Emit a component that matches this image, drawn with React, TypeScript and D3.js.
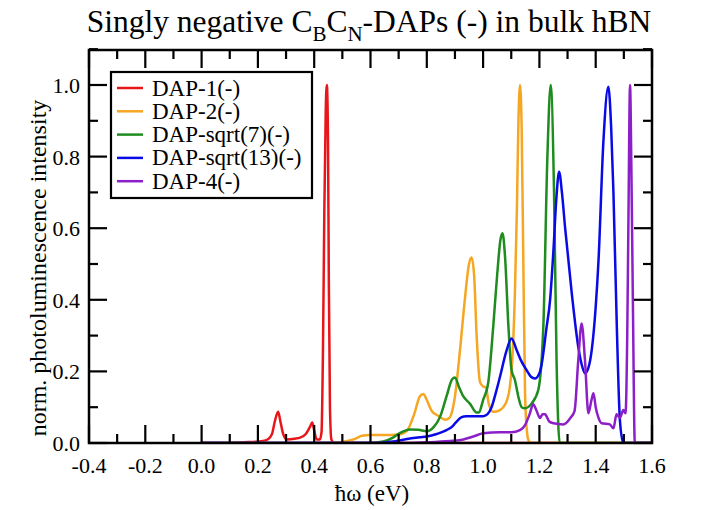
import React from "react";
import * as d3 from "d3";

const xTickValues = [-0.4, -0.2, 0.0, 0.2, 0.4, 0.6, 0.8, 1.0, 1.2, 1.4, 1.6];
const yTickValues = [0.0, 0.2, 0.4, 0.6, 0.8, 1.0];

const dap1X = [0.0, 0.1, 0.15, 0.2, 0.23, 0.25, 0.26, 0.272, 0.28, 0.29, 0.303, 0.33, 0.35, 0.37, 0.385, 0.393, 0.4, 0.409, 0.42, 0.426, 0.431, 0.436, 0.441, 0.445, 0.449, 0.452, 0.456, 0.461, 0.47, 1.6];
const dap1Y = [0, 0, 0.002, 0.004, 0.008, 0.025, 0.06, 0.087, 0.06, 0.025, 0.01, 0.012, 0.015, 0.025, 0.045, 0.057, 0.035, 0.01, 0.01, 0.03, 0.25, 0.65, 0.93, 1.0, 0.85, 0.45, 0.1, 0.01, 0, 0];

const dap2X = [0.0, 0.45, 0.5, 0.54, 0.57, 0.6, 0.65, 0.7, 0.73, 0.755, 0.775, 0.788, 0.8, 0.817, 0.84, 0.865, 0.88, 0.9, 0.918, 0.935, 0.95, 0.959, 0.968, 0.977, 0.989, 1.0, 1.01, 1.02, 1.036, 1.06, 1.08, 1.095, 1.105, 1.113, 1.12, 1.125, 1.131, 1.137, 1.143, 1.149, 1.155, 1.16, 1.17, 1.6];
const dap2Y = [0, 0, 0.003, 0.01, 0.02, 0.022, 0.022, 0.024, 0.035, 0.08, 0.13, 0.137, 0.12, 0.09, 0.076, 0.065, 0.07, 0.13, 0.26, 0.4, 0.5, 0.518, 0.47, 0.3, 0.17, 0.158, 0.155, 0.11, 0.087, 0.092, 0.11, 0.157, 0.25, 0.42, 0.65, 0.88, 1.0, 0.88, 0.5, 0.14, 0.04, 0.01, 0, 0];

const dap7X = [0.0, 0.6, 0.645, 0.68, 0.705, 0.74, 0.77, 0.8, 0.825, 0.847, 0.87, 0.89, 0.9, 0.915, 0.93, 0.953, 0.977, 0.985, 1.0, 1.018, 1.036, 1.05, 1.062, 1.069, 1.078, 1.09, 1.101, 1.113, 1.125, 1.137, 1.149, 1.172, 1.196, 1.214, 1.228, 1.24, 1.252, 1.261, 1.272, 1.6];
const dap7Y = [0, 0, 0.004, 0.015, 0.028, 0.038, 0.037, 0.033, 0.045, 0.073, 0.13, 0.178, 0.183, 0.155, 0.13, 0.11, 0.085, 0.085, 0.12, 0.167, 0.325, 0.47, 0.57, 0.586, 0.52, 0.325, 0.204, 0.176, 0.13, 0.1, 0.097, 0.11, 0.148, 0.325, 0.79, 1.0, 0.7, 0.23, 0, 0];

const dap13X = [0.0, 0.63, 0.68, 0.72, 0.776, 0.8, 0.835, 0.87, 0.893, 0.906, 0.924, 0.94, 1.0, 1.015, 1.03, 1.045, 1.06, 1.084, 1.101, 1.119, 1.135, 1.154, 1.17, 1.184, 1.2, 1.208, 1.225, 1.238, 1.25, 1.26, 1.27, 1.28, 1.291, 1.315, 1.338, 1.35, 1.362, 1.374, 1.386, 1.4, 1.41, 1.427, 1.445, 1.455, 1.463, 1.475, 1.486, 1.498, 1.6];
const dap13Y = [0, 0, 0.004, 0.01, 0.016, 0.018, 0.025, 0.036, 0.048, 0.06, 0.072, 0.075, 0.075, 0.08, 0.1, 0.14, 0.185, 0.26, 0.292, 0.26, 0.23, 0.204, 0.185, 0.18, 0.195, 0.22, 0.32, 0.4, 0.54, 0.68, 0.758, 0.7, 0.604, 0.418, 0.269, 0.22, 0.195, 0.21, 0.26, 0.38, 0.51, 0.837, 0.995, 0.88, 0.7, 0.325, 0.064, 0, 0];

const dap4X = [0.0, 0.75, 0.8, 0.894, 0.93, 0.965, 1.0, 1.06, 1.1, 1.131, 1.149, 1.165, 1.178, 1.19, 1.202, 1.211, 1.22, 1.235, 1.25, 1.285, 1.31, 1.325, 1.338, 1.35, 1.362, 1.374, 1.385, 1.392, 1.4, 1.41, 1.421, 1.45, 1.463, 1.474, 1.486, 1.498, 1.506, 1.512, 1.516, 1.522, 1.527, 1.532, 1.539, 1.6];
const dap4Y = [0, 0, 0.002, 0.006, 0.01, 0.018, 0.027, 0.03, 0.03, 0.036, 0.05, 0.08, 0.108, 0.09, 0.07, 0.08, 0.08, 0.06, 0.055, 0.052, 0.07, 0.09, 0.23, 0.334, 0.23, 0.083, 0.12, 0.139, 0.1, 0.07, 0.055, 0.052, 0.041, 0.08, 0.07, 0.092, 0.083, 0.3, 0.6, 1.0, 0.75, 0.4, 0, 0];

const seriesNames = ["DAP-1(-)", "DAP-2(-)", "DAP-sqrt(7)(-)", "DAP-sqrt(13)(-)", "DAP-4(-)"];
const seriesColors = ["#e8161b", "#f5a623", "#1e8c1e", "#0a0ae6", "#8c1fc8"];
const seriesX = [dap1X, dap2X, dap7X, dap13X, dap4X];
const seriesY = [dap1Y, dap2Y, dap7Y, dap13Y, dap4Y];

const W = 705;
const H = 510;
const L = 89, R = 652, T = 50, B = 443;
const FONT = '"Liberation Serif", "Times New Roman", Times, "DejaVu Serif", serif';
const ts = { fontFamily: FONT };

export default function App() {
  const x = d3.scaleLinear().domain([-0.4, 1.6]).range([L, R]);
  const y = d3.scaleLinear().domain([0, 1.1]).range([B, B - 1.1 * 358]);
  const line = d3
    .line<[number, number]>()
    .x((d) => x(d[0]))
    .y((d) => y(d[1]))
    .curve(d3.curveMonotoneX);

  const xMinor = d3.range(-4, 17).map((i) => i / 10);
  const yMinor = d3.range(0, 12).map((i) => i / 10);
  const isMajor = (v: number) => Math.abs(Math.round(v * 10) % 2) === 0;
  const MAJ = 18, MIN = 9;

  return (
    <svg width={W} height={H} style={{ display: "block", position: "absolute", left: 0, top: 0, background: "#fff", fontFamily: FONT }}>
      <defs>
        <clipPath id="plotclip">
          <rect x={L} y={T} width={R - L} height={B - T} />
        </clipPath>
      </defs>
      <rect x={0} y={0} width={W} height={H} fill="#fff" />
      <text x={369} y={32} textAnchor="middle" fontSize={31.5} fill="#000" style={ts}>
        Singly negative C<tspan dy={9} fontSize={21}>B</tspan>
        <tspan dy={-9} fontSize={31.5}>C</tspan>
        <tspan dy={9} fontSize={21}>N</tspan>
        <tspan dy={-9} fontSize={31.5}>-DAPs (-) in bulk hBN</tspan>
      </text>

      <g clipPath="url(#plotclip)">
        {seriesX.map((xs, i) => (
          <path
            key={i}
            d={line(xs.map((v, j) => [v, seriesY[i][j]] as [number, number])) || ""}
            fill="none"
            stroke={seriesColors[i]}
            strokeWidth={2.5}
            strokeLinejoin="round"
          />
        ))}
      </g>

      <g stroke="#000" strokeWidth={2.2}>
        {xMinor.map((v) => {
          const len = isMajor(v) ? MAJ : MIN;
          return (
            <g key={"xt" + v}>
              <line x1={x(v)} x2={x(v)} y1={B} y2={B - len} />
              <line x1={x(v)} x2={x(v)} y1={T} y2={T + len} />
            </g>
          );
        })}
        {yMinor.map((v) => {
          const len = isMajor(v) ? MAJ : MIN;
          return (
            <g key={"yt" + v}>
              <line x1={L} x2={L + len} y1={y(v)} y2={y(v)} />
              <line x1={R} x2={R - len} y1={y(v)} y2={y(v)} />
            </g>
          );
        })}
      </g>
      <rect x={L} y={T} width={R - L} height={B - T} fill="none" stroke="#000" strokeWidth={2.5} />

      {xTickValues.map((v) => (
        <text key={"xl" + v} x={x(v)} y={473} textAnchor="middle" fontSize={22} fill="#000" style={ts}>
          {v.toFixed(1)}
        </text>
      ))}
      {yTickValues.map((v) => (
        <text key={"yl" + v} x={80} y={y(v) + 8} textAnchor="end" fontSize={22} fill="#000" style={ts}>
          {v.toFixed(1)}
        </text>
      ))}

      <text x={372} y={501} textAnchor="middle" fontSize={23} fill="#000" style={ts}>
        ħω (eV)
      </text>
      <text transform="translate(46,268) rotate(-90)" textAnchor="middle" fontSize={24} fill="#000" style={ts}>
        norm. photoluminescence intensity
      </text>

      <rect x={111} y={72} width={201} height={126} fill="#fff" stroke="#000" strokeWidth={2.2} />
      {seriesNames.map((name, i) => {
        const ry = 88 + i * 23.3;
        return (
          <g key={name}>
            <line x1={117} x2={143} y1={ry} y2={ry} stroke={seriesColors[i]} strokeWidth={2.5} />
            <text x={152} y={ry + 7.5} fontSize={23} fill="#000" style={ts}>
              {name}
            </text>
          </g>
        );
      })}
    </svg>
  );
}
